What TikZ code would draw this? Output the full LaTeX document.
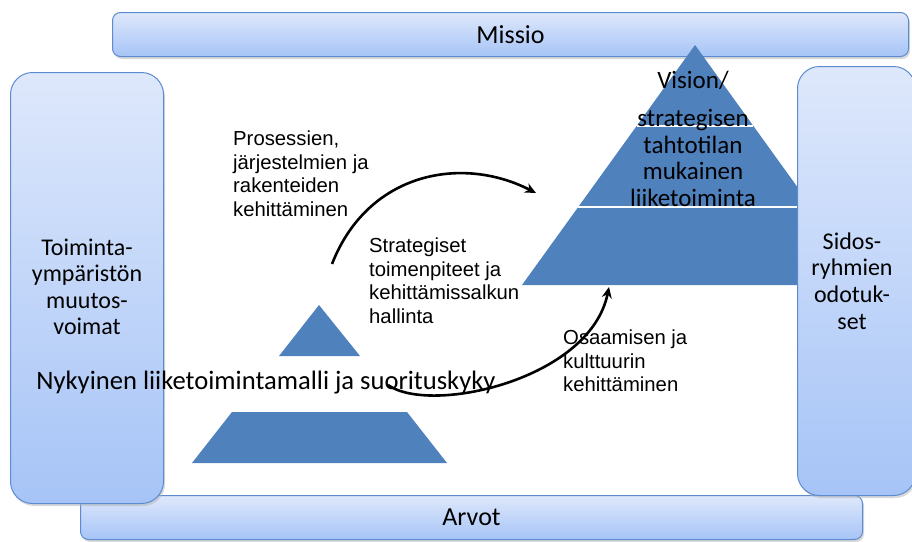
\documentclass[tikz,border=0pt]{standalone}
\usepackage{fontspec}
\setmainfont{Liberation Sans}
\newfontfamily\calib{Carlito}
\usetikzlibrary{arrows.meta,shadows}

\definecolor{pyrblue}{HTML}{4F81BD}
\definecolor{paneltop}{HTML}{DEE8FB}
\definecolor{panelbot}{HTML}{A6C4F7}
\definecolor{panelline}{HTML}{5C8BD0}

\tikzset{
  panel/.style={draw=panelline, line width=1pt, top color=paneltop, bottom color=panelbot,
    inner sep=0pt, anchor=north west, align=center,
    drop shadow={shadow xshift=1.5pt, shadow yshift=-2.5pt, fill=black!30}},
  barpanel/.style={panel, rounded corners=8pt, font=\calib\fontsize{26}{28}\selectfont},
  sidepanel/.style={panel, rounded corners=22pt},
  sidetext/.style={align=center, inner sep=0pt, font=\calib\fontsize{24}{26.5}\selectfont},
  pyrtext/.style={align=center, inner sep=0pt, font=\calib\fontsize{25}{26.5}\selectfont},
  note/.style={align=left, inner sep=0pt, anchor=north west, font=\fontsize{20.3}{23.5}\selectfont},
  layer/.style={fill=pyrblue},
  divider/.style={draw=white, line width=2.5pt},
  flow/.style={line width=2.6pt, -{Stealth[length=11pt, width=10pt]}}
}

\begin{document}
\begin{tikzpicture}[x=1pt, y=-1pt]
  \useasboundingbox (0,0) rectangle (912,541);
  \clip (0,0) rectangle (912,541);

  % horizontal bars
  \node[barpanel, minimum width=796pt, minimum height=44pt] (missio) at (112,12) {Missio};
  \node[barpanel, minimum width=782pt, minimum height=44pt] (arvot) at (80,495) {Arvot};

  % target pyramid (vision)
  \coordinate (apex) at (695,45);
  \fill[layer] (apex) -- (868,285) -- (522,285) -- cycle;
  \draw[divider] (636.6,126) -- (753.4,126);
  \draw[divider] (578.2,207) -- (811.8,207);

  % current pyramid
  \fill[layer] (319,305) -- (360,356) -- (279,356) -- cycle;
  \fill[layer] (232,412) -- (407,412) -- (447,463) -- (192,463) -- cycle;

  % side panels
  \node[sidepanel, minimum width=153pt, minimum height=431pt] (left) at (10,72) {};
  \node[sidepanel, minimum width=118pt, minimum height=429pt] (right) at (797,66) {};
  \node[sidetext] (lefttext) at (87,287) {Toiminta-\\ympäristön\\muutos-\\voimat};
  \node[sidetext] (righttext) at (852,281) {Sidos-\\ryhmien\\odotuk-\\set};

  % pyramid texts
  \node[pyrtext] (vision) at (693,80) {Vision/};
  \node[pyrtext] (visiontext) at (693,158) {strategisen\\tahtotilan\\mukainen\\liiketoiminta};
  \node[inner sep=0pt, font=\calib\fontsize{26.6}{28}\selectfont] (current) at (266,383)
    {Nykyinen liiketoimintamalli ja suorituskyky};

  % development notes
  \node[note] (process) at (233,131) {Prosessien,\\järjestelmien ja\\rakenteiden\\kehittäminen};
  \node[note] (strategy) at (369,238) {Strategiset\\toimenpiteet ja\\kehittämissalkun\\hallinta};
  \node[note] (culture) at (563,330) {Osaamisen ja\\kulttuurin\\kehittäminen};

  % development arrows
  \coordinate (upstart) at (332,264);
  \coordinate (upend) at (536,193);
  \coordinate (lowstart) at (388,385);
  \coordinate (lowend) at (609,287);
  \draw[flow] (upstart) .. controls (368,172) and (462,155) .. (upend);
  \draw[flow] (lowstart) .. controls (430,415) and (590,380) .. (lowend);
\end{tikzpicture}
\end{document}
